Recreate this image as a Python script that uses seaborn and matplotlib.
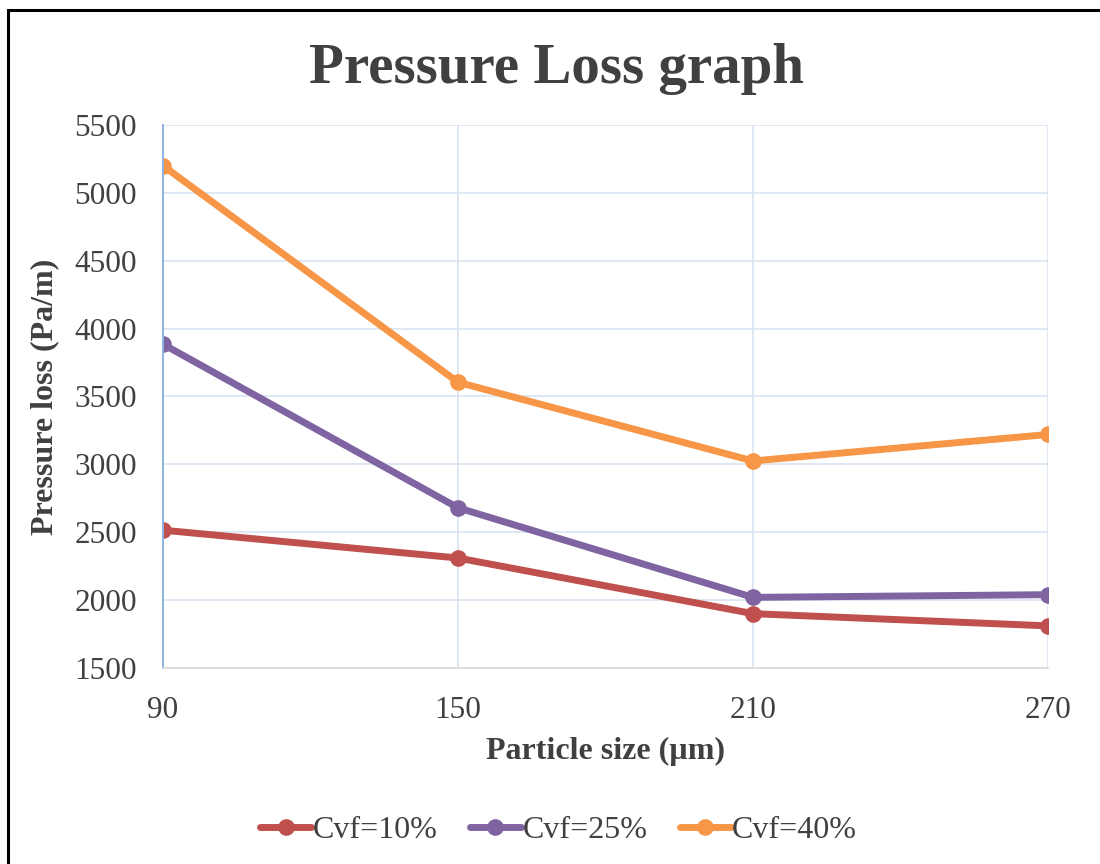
import matplotlib
matplotlib.use("Agg")
import matplotlib.pyplot as plt
from matplotlib.patches import Rectangle
import seaborn as sns
import pandas as pd

# Pressure loss data (Pa/m) per particle size (µm) for three volume fractions
particle_size = [90, 150, 210, 270]
cvf_10 = [2515, 2310, 1900, 1810]
cvf_25 = [3885, 2680, 2020, 2040]
cvf_40 = [5200, 3605, 3025, 3220]
series_names = ["Cvf=10%", "Cvf=25%", "Cvf=40%"]
series_colors = ["#c0504d", "#8064a2", "#f79646"]

df = pd.concat([
    pd.DataFrame({"size": particle_size, "loss": vals, "series": name})
    for name, vals in zip(series_names, [cvf_10, cvf_25, cvf_40])
])

sns.set_style("white")
plt.rcParams["font.family"] = ["Liberation Serif", "DejaVu Serif"]
text_color = "#404040"

fig = plt.figure(figsize=(11, 8.64), dpi=100)
ax = fig.add_axes([0.1482, 0.2269, 0.8045, 0.6284])

sns.lineplot(data=df, x="size", y="loss", hue="series", palette=series_colors,
             hue_order=series_names, marker="o", markersize=12, linewidth=5,
             markeredgewidth=0, ax=ax, legend=True, sort=False)

ax.set_xlim(90, 270)
ax.set_ylim(1500, 5500)
ax.set_xticks(particle_size)
ax.set_yticks(range(1500, 5501, 500))
ax.grid(True, color="#d9e3f1", linewidth=1.2)
ax.set_axisbelow(True)
for side in ["top", "right"]:
    ax.spines[side].set_visible(False)
ax.spines["left"].set_color("#8db3e2")
ax.spines["left"].set_linewidth(1.4)
ax.spines["bottom"].set_color("#d9d9d9")
ax.spines["bottom"].set_linewidth(1.2)
ax.tick_params(axis="both", length=0, labelsize=22.5, colors=text_color)
ax.tick_params(axis="x", pad=20)
ax.tick_params(axis="y", pad=19)

ax.set_xlabel("Particle size (µm)", fontsize=23, fontweight="bold",
              color=text_color, labelpad=9)
ax.set_ylabel("Pressure loss (Pa/m)", fontsize=23, fontweight="bold",
              color=text_color, labelpad=11)

fig.text(0.506, 0.92, "Pressure Loss graph", ha="center", va="center",
         fontsize=41, fontweight="bold", color=text_color)

handles, labels = ax.get_legend_handles_labels()
ax.legend(handles, labels, loc="center", bbox_to_anchor=(0.508, 0.039),
          bbox_transform=fig.transFigure, ncol=3, frameon=False,
          fontsize=23, handlelength=1.6, handletextpad=0.05, columnspacing=1.0,
          labelcolor=text_color)

# Outer frame around the chart area
fig.patches.append(Rectangle((8 / 1100, -0.05), 1.1, 1 - 10 / 864 + 0.05,
                             transform=fig.transFigure, fill=False,
                             edgecolor="black", linewidth=2.2))

fig.savefig("out.png", dpi=100)
